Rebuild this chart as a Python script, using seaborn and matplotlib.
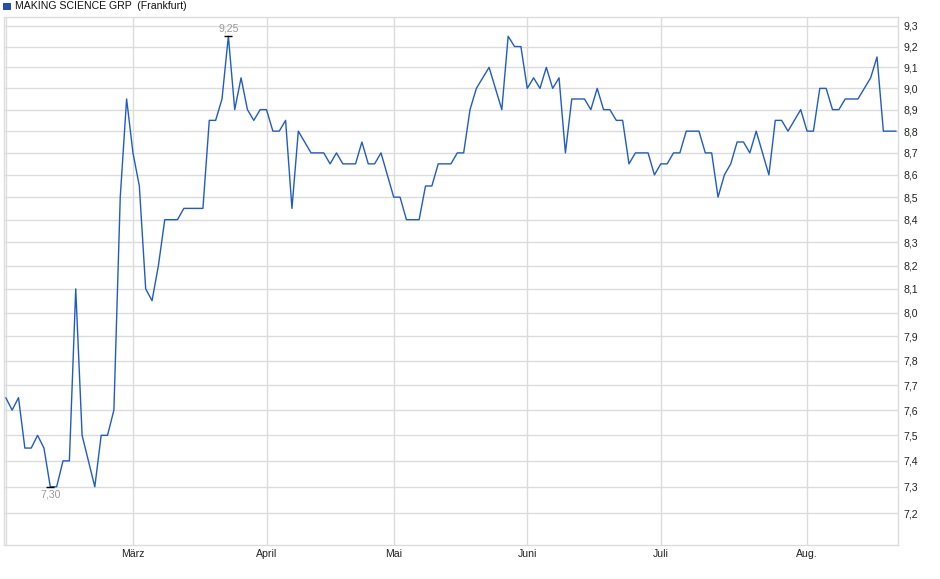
import numpy as np
import pandas as pd
import matplotlib
matplotlib.use("Agg")
import matplotlib.pyplot as plt
import seaborn as sns
from matplotlib.patches import Rectangle

# ---- data -------------------------------------------------------------
holidays = ["2025-04-18", "2025-04-21", "2025-05-01"]
trade_dates = pd.bdate_range("2025-02-03", "2025-08-21")
trade_dates = trade_dates[~trade_dates.isin(pd.to_datetime(holidays))]

prices = [
    7.65, 7.60, 7.65, 7.45, 7.45, 7.50, 7.45, 7.30, 7.30, 7.40,
    7.40, 8.10, 7.50, 7.40, 7.30, 7.50, 7.50, 7.60, 8.50, 8.95,
    8.70, 8.55, 8.10, 8.05, 8.20, 8.40, 8.40, 8.40, 8.45, 8.45,
    8.45, 8.45, 8.85, 8.85, 8.95, 9.25, 8.90, 9.05, 8.90, 8.85,
    8.90, 8.90, 8.80, 8.80, 8.85, 8.45, 8.80, 8.75, 8.70, 8.70,
    8.70, 8.65, 8.70, 8.65, 8.65, 8.65, 8.75, 8.65, 8.65, 8.70,
    8.60, 8.50, 8.50, 8.40, 8.40, 8.40, 8.55, 8.55, 8.65, 8.65,
    8.65, 8.70, 8.70, 8.90, 9.00, 9.05, 9.10, 9.00, 8.90, 9.25,
    9.20, 9.20, 9.00, 9.05, 9.00, 9.10, 9.00, 9.05, 8.70, 8.95,
    8.95, 8.95, 8.90, 9.00, 8.90, 8.90, 8.85, 8.85, 8.65, 8.70,
    8.70, 8.70, 8.60, 8.65, 8.65, 8.70, 8.70, 8.80, 8.80, 8.80,
    8.70, 8.70, 8.50, 8.60, 8.65, 8.75, 8.75, 8.70, 8.80, 8.70,
    8.60, 8.85, 8.85, 8.80, 8.85, 8.90, 8.80, 8.80, 9.00, 9.00,
    8.90, 8.90, 8.95, 8.95, 8.95, 9.00, 9.05, 9.15, 8.80, 8.80,
    8.80,
]
month_labels = ["", "März", "April", "Mai", "Juni", "Juli", "Aug."]
y_ticks = [7.2, 7.3, 7.4, 7.5, 7.6, 7.7, 7.8, 7.9, 8.0, 8.1, 8.2,
           8.3, 8.4, 8.5, 8.6, 8.7, 8.8, 8.9, 9.0, 9.1, 9.2, 9.3]
title = "MAKING SCIENCE GRP  (Frankfurt)"

df = pd.DataFrame({"idx": np.arange(len(prices)), "price": prices,
                   "date": trade_dates[:len(prices)]})
month_pos = df.groupby(df["date"].dt.to_period("M"))["idx"].min().tolist()

# ---- style ------------------------------------------------------------
sns.set_theme(style="white")
plt.rcParams["font.family"] = ["Liberation Sans", "DejaVu Sans"]

W, H = 940, 579
fig = plt.figure(figsize=(W / 100, H / 100), dpi=100)
left, right, top, bottom = 4, 898, 17, 545
ax = fig.add_axes([left / W, 1 - bottom / H, (right - left) / W, (bottom - top) / H])

line_color = "#1f5cc6"
grid_color = "#dcdcdc"

sns.lineplot(data=df, x="idx", y="price", ax=ax, color=line_color, linewidth=1.0)

ax.set_yscale("log")
ax.set_ylim(7.08, 9.344)
ax.set_xlim(-0.28, 140.3)

ax.yaxis.tick_right()
ax.set_yticks(y_ticks)
ax.set_yticklabels([f"{v:.1f}".replace(".", ",") for v in y_ticks])
ax.yaxis.set_minor_locator(matplotlib.ticker.NullLocator())
ax.set_xticks(month_pos)
ax.set_xticklabels(month_labels)
ax.tick_params(axis="y", length=0, pad=4, labelsize=7.6, colors="#222222")
ax.tick_params(axis="x", length=0, pad=3, labelsize=7.6, colors="#222222")
ax.set_xlabel("")
ax.set_ylabel("")

ax.grid(True, color=grid_color, linewidth=1.0)
ax.set_axisbelow(True)
for sp in ax.spines.values():
    sp.set_color(grid_color)
    sp.set_linewidth(1.0)

# extreme markers
imax = int(np.argmax(prices))
imin = int(np.argmin(prices))
for i, va, off in [(imax, "bottom", 3), (imin, "top", -3)]:
    v = prices[i]
    ax.plot([i - 0.65, i + 0.65], [v, v], color="black", linewidth=1.0,
            solid_capstyle="butt", zorder=5)
    ax.annotate(f"{v:.2f}".replace(".", ","), xy=(i, v), xytext=(0, off),
                textcoords="offset pixels", ha="center", va=va,
                fontsize=7.6, color="#9a9a9a")

# title with legend square
fig.patches.append(Rectangle((3 / W, 1 - 9 / H), 6.5 / W, 6.5 / H,
                             transform=fig.transFigure, facecolor="#1f4fb8",
                             edgecolor="#123a8a", linewidth=0.6))
fig.text(15 / W, 1 - 6 / H, title, ha="left", va="center",
         fontsize=7.6, color="#111111")

fig.savefig("out.png", dpi=100)
